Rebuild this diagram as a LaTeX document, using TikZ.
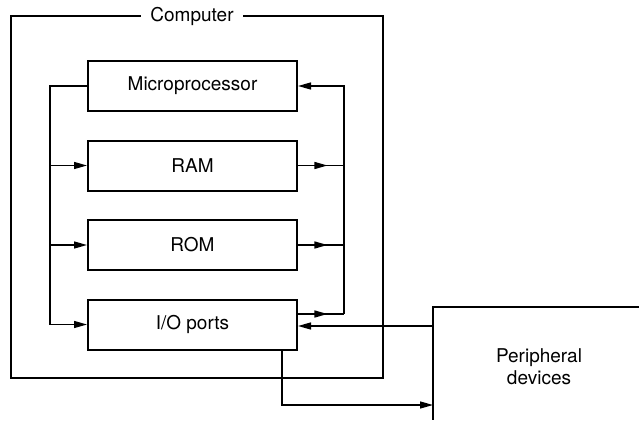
\documentclass[tikz,border=0pt]{standalone}
\usepackage{fontspec}
\setmainfont{TeX Gyre Heros}
\usetikzlibrary{arrows.meta,positioning,calc,decorations.markings}
\tikzset{
  blk/.style={draw,line width=2pt,minimum width=209pt,minimum height=50pt,inner sep=0pt},
  rahmen/.style={line width=2.8pt},
  ln/.style={line width=1.4pt},
  nyil/.style={ln,-{Triangle[length=13pt,width=7pt]}},
  midnyil/.style={ln,postaction={decorate},
    decoration={markings,mark=at position #1 with {\arrow{Triangle[length=13pt,width=7pt]}}}},
}
\begin{document}
\begin{tikzpicture}[x=1pt,y=-1pt,font=\fontsize{19}{22}\selectfont]
  \useasboundingbox (0,0) rectangle (639,420);
  \draw[rahmen] (11,16) rectangle (383,378);
  \node[fill=white,inner xsep=9pt,inner ysep=2pt] (comp) at (192,16) {Computer};
  \node[blk] (mp) at (192.5,86) {Microprocessor};
  \node[blk,below=27.5pt of mp] (ram) {RAM};
  \node[blk,below=27.5pt of ram] (rom) {ROM};
  \node[blk,below=27.5pt of rom] (io) {I/O ports};
  \coordinate (lb) at (50,86);
  \coordinate (rb) at (344,86);
  \coordinate (ioout) at ($(io.east)+(0,-10.5)$);
  % peripheral devices
  \draw[rahmen] (639,307) -| (433,420);
  \node[align=center] (per) at (539,367) {Peripheral\\devices};
  \coordinate (pin) at (433,326);
  \coordinate (pout) at (433,405);
  % left bus
  \draw[nyil] (mp.west) -- (lb) |- (io.west);
  \draw[nyil] (lb|-ram.west) -- (ram.west);
  \draw[nyil] (lb|-rom.west) -- (rom.west);
  % right bus
  \draw[nyil] (rb|-ioout) -- (rb) -- (mp.east);
  \draw[midnyil=0.64] (ram.east) -- (rb|-ram.east);
  \draw[midnyil=0.64] (rom.east) -- (rb|-rom.east);
  \draw[midnyil=0.64] (ioout) -- (rb|-ioout);
  % to and from the outside
  \draw[nyil] (pin) -- (io.east|-pin);
  \draw[nyil] ($(io.south east)+(-16,0)$) |- (pout);
\end{tikzpicture}
\end{document}
